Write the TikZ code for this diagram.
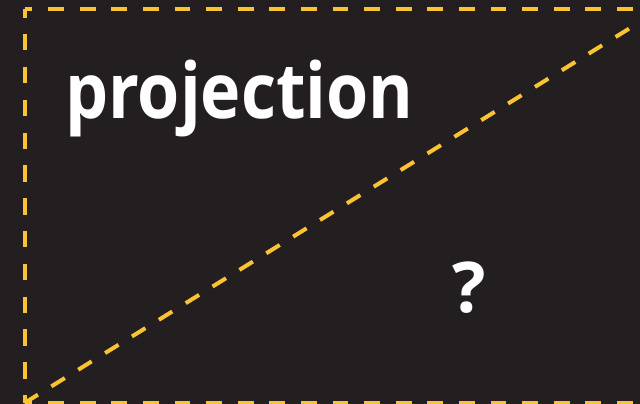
\documentclass[tikz,border=0pt]{standalone}
\usepackage{fontspec}
\setmainfont{Open Sans}
\definecolor{bg}{RGB}{35,31,32}
\definecolor{ylw}{RGB}{251,195,50}
\begin{document}
\begin{tikzpicture}[x=1pt,y=-1pt,
  hguide/.style={draw=ylw, line width=4pt, dash pattern=on 15.8pt off 15.8pt, dash phase=7.9pt},
  vguide/.style={draw=ylw, line width=4pt, dash pattern=on 16.4pt off 16.4pt, dash phase=8.2pt},
  dguide/.style={draw=ylw, line width=4pt, dash pattern=on 15.8pt off 15.8pt},
  bigtext/.style={text=white, font=\fontsize{77}{77}\selectfont\bfseries, inner sep=0pt}]
\fill[bg] (0,0) rectangle (640,404);
\useasboundingbox (0,0) rectangle (640,404);
\coordinate (tl) at (24.5,9.5);
\coordinate (bl) at (24.5,403);
\coordinate (tr) at (660,9.5);
\coordinate (br) at (660,403);
\draw[vguide] (tl) -- (bl);
\draw[hguide] (tl) -- (tr);
\draw[hguide] (bl) -- (br);
\draw[dguide] (bl) -- (tr);
\node[bigtext, anchor=base west, xscale=0.885] (title) at (65,118) {projection};
\node[bigtext, font=\fontsize{70}{70}\selectfont\bfseries] (q) at (469,288) {?};
\end{tikzpicture}
\end{document}
